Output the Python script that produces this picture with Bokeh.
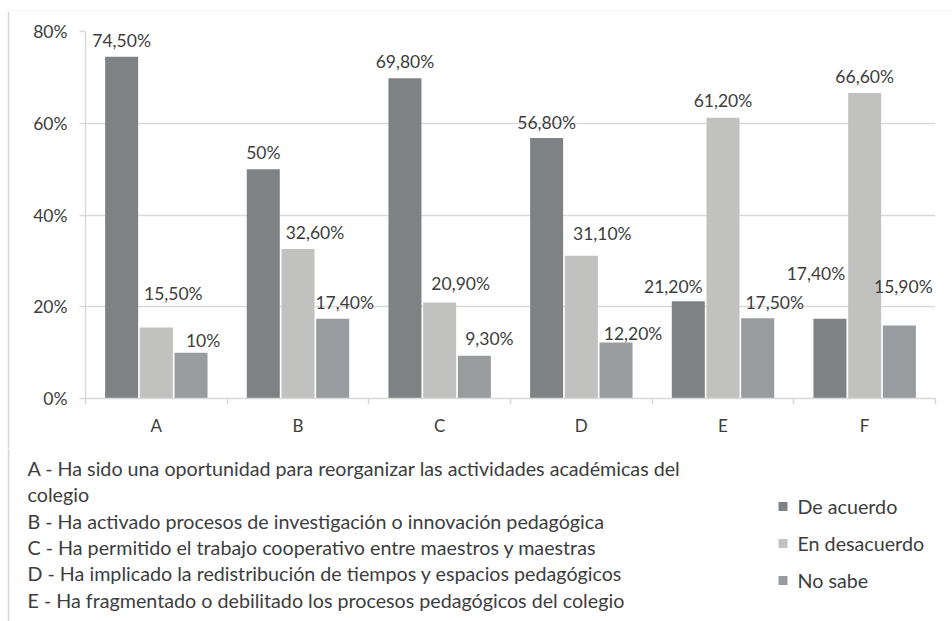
import numpy as np
from bokeh.plotting import figure
from bokeh.layouts import column, row
from bokeh.models import ColumnDataSource, FixedTicker, PrintfTickFormatter, Range1d, LabelSet
from bokeh.core.properties import value
from bokeh.embed import file_html
from bokeh.resources import INLINE

# ---------------- data ----------------
categories = ["A", "B", "C", "D", "E", "F"]
series_names = ["De acuerdo", "En desacuerdo", "No sabe"]
de_acuerdo = [74.5, 50.0, 69.8, 56.8, 21.2, 17.4]
en_desacuerdo = [15.5, 32.6, 20.9, 31.1, 61.2, 66.6]
no_sabe = [10.0, 17.4, 9.3, 12.2, 17.5, 15.9]
label_texts = [
    ["74,50%", "50%", "69,80%", "56,80%", "21,20%", "17,40%"],
    ["15,50%", "32,60%", "20,90%", "31,10%", "61,20%", "66,60%"],
    ["10%", "17,40%", "9,30%", "12,20%", "17,50%", "15,90%"],
]
y_ticks = [0, 20, 40, 60, 80]
desc_lines = [
    "A - Ha sido una oportunidad para reorganizar las actividades académicas del",
    "colegio",
    "B - Ha activado procesos de investigación o innovación pedagógica",
    "C - Ha permitido el trabajo cooperativo entre maestros y maestras",
    "D - Ha implicado la redistribución de tiempos y espacios pedagógicos",
    "E - Ha fragmentado o debilitado los procesos pedagógicos del colegio",
]

# ---------------- styles ----------------
colors = ["#7f8284", "#c1c1bf", "#989c9e"]
bar_offsets = [-0.245, 0.0, 0.245]
bar_width = 0.233
FONT = "Lato"
TXT = "#3d3d3d"
GRID = "#d9d9d9"
BORDER = "#d6d6d6"
# manual label nudges (px): right / up, per series per category
label_dx = [[0, 0, 0, 0, -15, -14],
            [17, 17, 21, 21, 0, 0],
            [12, 12, 15, 17, 17, 4]]
label_dy = [[16, 17, 17, 15, 15, 45],
            [34, 16, 19, 22, 17, 16],
            [12, 16, 17, 9, 16, 39]]

W = 952
H_STRIP = 11
H_TOP = 437
H_BOT = 173
W_LEFT = 10
BX = 8  # x of the outer frame's left edge


def blank(width, height, xr, yr):
    f = figure(width=width, height=height, output_backend="svg", toolbar_location=None,
               x_range=xr, y_range=yr, x_axis_location=None, y_axis_location=None,
               min_border=0, min_border_left=0, min_border_right=0,
               min_border_top=0, min_border_bottom=0)
    f.frame_align = False
    f.grid.visible = False
    f.outline_line_color = None
    f.border_fill_color = "white"
    f.background_fill_color = "white"
    return f


# top strip with the outer frame's top edge
top_strip = blank(W, H_STRIP, Range1d(0, W), Range1d(H_STRIP, 0))
top_strip.segment(x0=[BX, BX], y0=[10, 10], x1=[W, BX], y1=[10, H_STRIP],
                  line_color=BORDER, line_width=1.5)

# left strip with the outer frame's left edge
left_strip = blank(W_LEFT, H_TOP, Range1d(0, W_LEFT), Range1d(H_TOP, 0))
left_strip.segment(x0=[BX], y0=[0], x1=[BX], y1=[H_TOP], line_color=BORDER, line_width=1.5)

# ---------------- main chart ----------------
p = figure(width=W - W_LEFT, height=H_TOP, output_backend="svg", toolbar_location=None,
           x_range=Range1d(0, len(categories)), y_range=Range1d(0, 80),
           min_border_left=75, min_border_right=17, min_border_top=20, min_border_bottom=50)
p.frame_align = False
p.outline_line_color = None
p.background_fill_color = "white"
p.border_fill_color = "white"

series = [de_acuerdo, en_desacuerdo, no_sabe]
cx = np.arange(len(categories)) + 0.5
for k, vals in enumerate(series):
    src = ColumnDataSource(dict(x=cx + bar_offsets[k], top=vals, lab=label_texts[k],
                                dx=label_dx[k], dy=label_dy[k]))
    p.vbar(x="x", top="top", width=bar_width, source=src, fill_color=colors[k],
           line_color=None)
    p.add_layout(LabelSet(x="x", y="top", text="lab", source=src,
                          x_offset="dx", y_offset="dy",
                          text_font=value(FONT), text_font_size=value("17.5px"),
                          text_color=value(TXT),
                          text_align="center", text_baseline="middle"))

# y axis
p.yaxis.ticker = FixedTicker(ticks=y_ticks)
p.yaxis.formatter = PrintfTickFormatter(format="%d%%")
p.yaxis.axis_line_color = GRID
p.yaxis.axis_line_width = 1.5
p.yaxis.major_tick_line_color = GRID
p.yaxis.major_tick_line_width = 1.5
p.yaxis.major_tick_out = 6
p.yaxis.major_tick_in = 0
p.yaxis.minor_tick_line_color = None
p.yaxis.major_label_standoff = 12
p.yaxis.major_label_text_font = FONT
p.yaxis.major_label_text_font_size = "17.5px"
p.yaxis.major_label_text_color = TXT

# x axis: labels at category centers, ticks at boundaries
p.xaxis.ticker = FixedTicker(ticks=list(cx), minor_ticks=list(range(len(categories) + 1)))
p.xaxis.major_label_overrides = {float(c): cat for c, cat in zip(cx, categories)}
p.xaxis.axis_line_color = GRID
p.xaxis.axis_line_width = 1.5
p.xaxis.major_tick_line_color = None
p.xaxis.major_tick_out = 0
p.xaxis.major_tick_in = 0
p.xaxis.minor_tick_line_color = GRID
p.xaxis.minor_tick_line_width = 1.5
p.xaxis.minor_tick_out = 6
p.xaxis.minor_tick_in = 0
p.xaxis.major_label_standoff = 10
p.xaxis.major_label_text_font = FONT
p.xaxis.major_label_text_font_size = "17px"
p.xaxis.major_label_text_color = TXT

p.xgrid.grid_line_color = None
p.ygrid.ticker = FixedTicker(ticks=y_ticks)
p.ygrid.grid_line_color = GRID
p.ygrid.grid_line_width = 1.5

# ---------------- bottom panel: descriptions + legend ----------------
q = blank(W, H_BOT, Range1d(0, W), Range1d(H_BOT, 0))
q.segment(x0=[BX], y0=[0], x1=[BX], y1=[H_BOT], line_color=BORDER, line_width=1.5)

LINE_X = 27
LINE_Y0 = 20
LINE_STEP = 26.3
dsrc = ColumnDataSource(dict(x=[LINE_X] * len(desc_lines),
                             y=[LINE_Y0 + i * LINE_STEP for i in range(len(desc_lines))],
                             t=desc_lines))
q.text(x="x", y="y", text="t", source=dsrc, text_font=value(FONT),
       text_font_size="19.7px", text_color=TXT, text_align="left", text_baseline="middle")

# legend (swatch + label)
LEG_X = 782.5
LEG_Y0 = 58
LEG_STEP = 37
lsrc = ColumnDataSource(dict(x=[LEG_X] * 3, y=[LEG_Y0 + i * LEG_STEP for i in range(3)],
                             c=colors, t=series_names))
q.scatter(x="x", y="y", source=lsrc, marker="square", size=9, fill_color="c", line_color=None)
q.text(x="x", y="y", text="t", source=lsrc, x_offset=14.5, text_font=value(FONT),
       text_font_size="19.7px", text_color=TXT, text_align="left", text_baseline="middle")

layout = column(top_strip, row(left_strip, p, spacing=0), q, spacing=0)

with open("out.html", "w") as f:
    f.write(file_html(layout, INLINE))
